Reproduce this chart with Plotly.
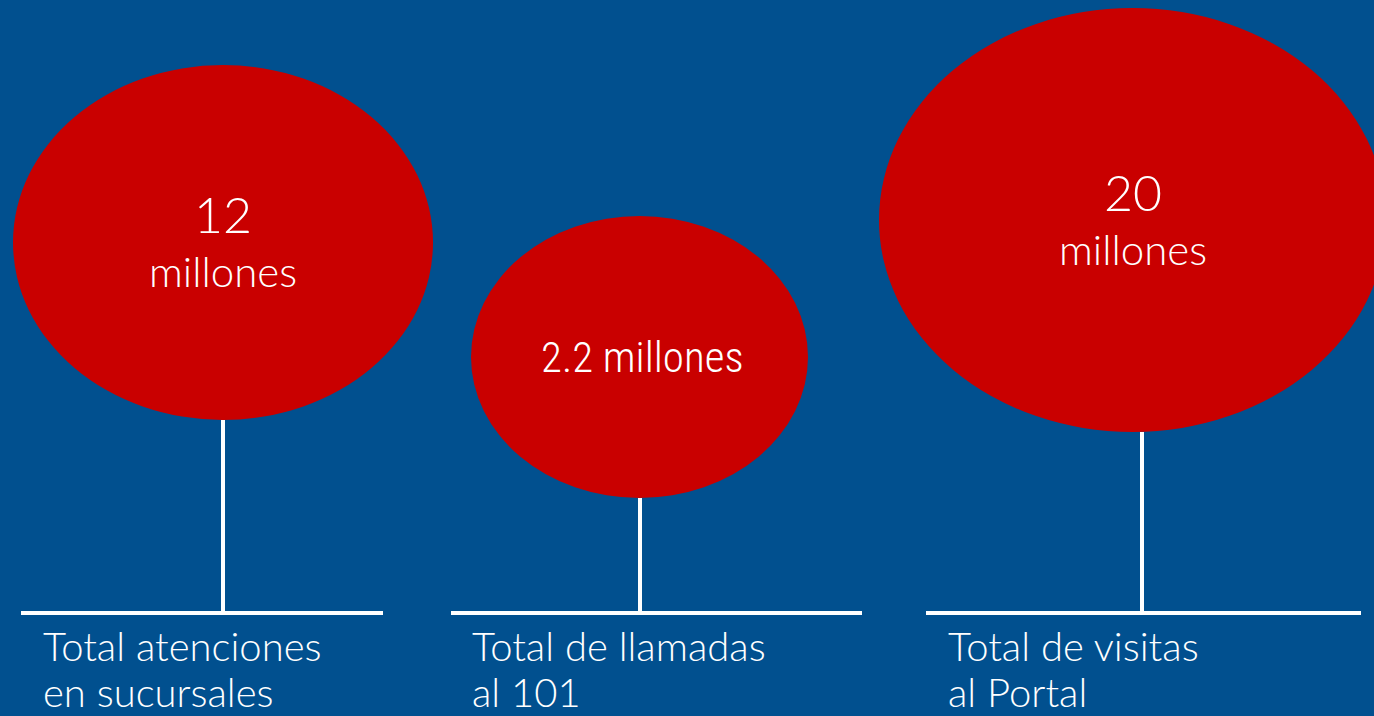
import plotly.graph_objects as go

# ---- data ----
categories = ["Total atenciones<br>en sucursales", "Total de llamadas<br>al 101", "Total de visitas<br>al Portal"]
values = ["12", "2.2", "20"]
unit = "millones"

# ---- layout constants (pixel-like coordinate space) ----
W, H = 1374, 716
BG = "#01508F"
RED = "#C90000"
WHITE = "#FFFFFF"

# ellipse boxes (x0, x1, y0, y1) in axis units
ellipses = [(13, 433, 65, 420), (471, 808, 216, 498), (879, 1386, 8, 432)]
stems_x = [223, 640, 1142]
base_y = 613
bases = [(21, 383), (451, 862), (926, 1361)]
label_x = [41, 470, 946]

fig = go.Figure()
fig.add_trace(go.Scatter(x=[0, W], y=[0, H], mode="markers", marker=dict(opacity=0), hoverinfo="skip", showlegend=False))

shapes = []
for i, (x0, x1, y0, y1) in enumerate(ellipses):
    shapes.append(dict(type="circle", xref="x", yref="y", x0=x0, x1=x1, y0=y0, y1=y1,
                       fillcolor=RED, line=dict(width=0), layer="above"))
    shapes.append(dict(type="line", xref="x", yref="y", x0=stems_x[i], x1=stems_x[i], y0=y1, y1=base_y,
                       line=dict(color=WHITE, width=4)))
    shapes.append(dict(type="line", xref="x", yref="y", x0=bases[i][0], x1=bases[i][1], y0=base_y, y1=base_y,
                       line=dict(color=WHITE, width=4)))

LIGHT = "Lato"
ann = []
# first ellipse
ann.append(dict(x=223, y=214, text=values[0], font=dict(family=LIGHT, size=50, color=WHITE, weight=300),
                showarrow=False, xanchor="center", yanchor="middle"))
ann.append(dict(x=223, y=271, text=unit, font=dict(family=LIGHT, size=42, color=WHITE, weight=300),
                showarrow=False, xanchor="center", yanchor="middle"))
# second ellipse (condensed)
ann.append(dict(x=642, y=357, text=values[1] + " " + unit,
                font=dict(family="Roboto Condensed, Liberation Sans Narrow, DejaVu Sans Condensed", size=43,
                          color=WHITE, weight=300),
                showarrow=False, xanchor="center", yanchor="middle"))
# third ellipse
ann.append(dict(x=1133, y=192, text=values[2], font=dict(family=LIGHT, size=50, color=WHITE, weight=300),
                showarrow=False, xanchor="center", yanchor="middle"))
ann.append(dict(x=1133, y=249, text=unit, font=dict(family=LIGHT, size=42, color=WHITE, weight=300),
                showarrow=False, xanchor="center", yanchor="middle"))

for i, c in enumerate(categories):
    l1, l2 = c.split("<br>")
    ann.append(dict(x=label_x[i], y=646, text=l1, font=dict(family=LIGHT, size=40, color=WHITE, weight=300),
                    showarrow=False, xanchor="left", yanchor="middle"))
    ann.append(dict(x=label_x[i], y=692, text=l2, font=dict(family=LIGHT, size=40, color=WHITE, weight=300),
                    showarrow=False, xanchor="left", yanchor="middle"))

fig.update_layout(
    width=W, height=H, margin=dict(l=0, r=0, t=0, b=0),
    paper_bgcolor=BG, plot_bgcolor=BG,
    xaxis=dict(range=[0, W], visible=False, fixedrange=True),
    yaxis=dict(range=[H, 0], visible=False, fixedrange=True),
    shapes=shapes, annotations=ann, showlegend=False,
)
fig.write_html("out.html", config={"displayModeBar": False},
               post_script="document.body.style.margin='0';document.body.style.overflow='hidden';document.body.style.background='" + BG + "';")
